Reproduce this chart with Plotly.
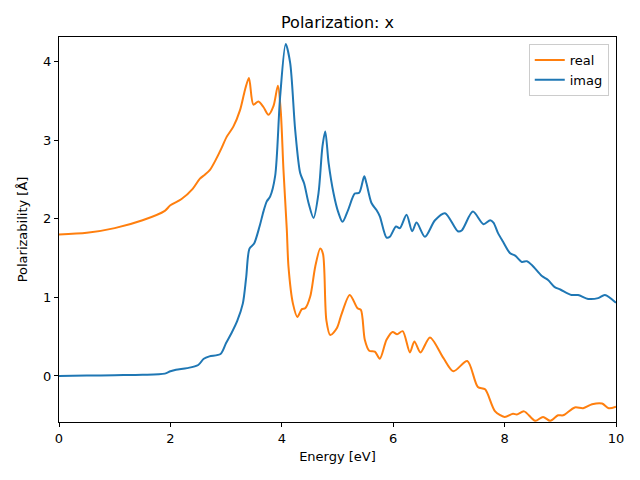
import plotly.graph_objects as go

# Real part (orange)
real_energy = [0.0, 0.5, 1.0, 1.5, 1.9, 2.0, 2.2, 2.4, 2.53, 2.62, 2.71, 2.83, 2.92, 3.01, 3.13, 3.25, 3.34, 3.41,
               3.49, 3.58, 3.67, 3.76, 3.85, 3.93, 3.98, 4.03, 4.09, 4.12, 4.2, 4.28, 4.36, 4.42, 4.51, 4.6, 4.69,
               4.74, 4.8, 4.87, 4.99, 5.07, 5.22, 5.36, 5.42, 5.49, 5.57, 5.67, 5.76, 5.88, 5.99, 6.07, 6.17,
               6.3, 6.38, 6.49, 6.66, 6.9, 7.08, 7.33, 7.52, 7.65, 7.83, 8.0, 8.15, 8.22, 8.35, 8.55, 8.69,
               8.82, 8.96, 9.05, 9.26, 9.41, 9.57, 9.75, 9.87, 10.0]
real_values = [1.80, 1.82, 1.88, 1.98, 2.10, 2.17, 2.25, 2.38, 2.51, 2.56, 2.62, 2.77, 2.90, 3.04, 3.17, 3.38, 3.64, 3.79,
               3.45, 3.49, 3.42, 3.32, 3.43, 3.69, 3.38, 2.62, 1.86, 1.39, 0.92, 0.75, 0.85, 0.86, 1.01, 1.39, 1.62,
               1.55, 0.71, 0.52, 0.61, 0.78, 1.03, 0.86, 0.84, 0.46, 0.32, 0.31, 0.22, 0.46, 0.56, 0.53, 0.57,
               0.30, 0.44, 0.30, 0.49, 0.23, 0.06, 0.19, -0.14, -0.17, -0.45, -0.52, -0.48, -0.49, -0.45, -0.57, -0.52,
               -0.57, -0.50, -0.50, -0.40, -0.41, -0.36, -0.35, -0.41, -0.39]

# Imaginary part (blue)
imag_energy = [0.0, 0.5, 1.0, 1.5, 1.9, 2.0, 2.1, 2.3, 2.5, 2.6, 2.7, 2.9, 3.0, 3.1, 3.2, 3.3, 3.36, 3.42, 3.5,
               3.6, 3.67, 3.73, 3.79, 3.88, 3.97, 4.07, 4.15, 4.24, 4.33, 4.4, 4.48, 4.57, 4.66, 4.73, 4.78,
               4.84, 4.93, 5.01, 5.09, 5.19, 5.31, 5.39, 5.48, 5.52, 5.61, 5.7, 5.76, 5.88, 5.94, 6.05, 6.12,
               6.24, 6.34, 6.42, 6.57, 6.75, 6.93, 7.16, 7.23, 7.43, 7.62, 7.74, 7.8, 7.88, 7.97, 8.1, 8.19,
               8.31, 8.4, 8.49, 8.67, 8.78, 8.9, 9.0, 9.2, 9.32, 9.5, 9.68, 9.8, 10.0]
imag_values = [0.0, 0.005, 0.01, 0.015, 0.03, 0.06, 0.08, 0.10, 0.14, 0.22, 0.25, 0.28, 0.42, 0.55, 0.70, 0.92, 1.25, 1.62, 1.68,
               1.90, 2.09, 2.22, 2.28, 2.54, 3.55, 4.22, 3.98, 3.13, 2.58, 2.45, 2.20, 2.01, 2.33, 2.92, 3.11,
               2.71, 2.32, 2.09, 1.96, 2.11, 2.32, 2.33, 2.54, 2.45, 2.20, 2.11, 2.03, 1.76, 1.77, 1.90, 1.88,
               2.05, 1.84, 1.95, 1.77, 1.98, 2.07, 1.84, 1.85, 2.09, 1.93, 1.98, 1.95, 1.82, 1.71, 1.56, 1.53,
               1.45, 1.46, 1.41, 1.27, 1.22, 1.13, 1.10, 1.03, 1.03, 0.98, 0.99, 1.03, 0.93]

x_ticks = [0, 2, 4, 6, 8, 10]
y_ticks = [0, 1, 2, 3, 4]

fig = go.Figure()
fig.add_trace(go.Scatter(x=real_energy, y=real_values, mode="lines", name="real",
                         line=dict(color="#ff7f0e", width=2, shape="spline", smoothing=0.8)))
fig.add_trace(go.Scatter(x=imag_energy, y=imag_values, mode="lines", name="imag",
                         line=dict(color="#1f77b4", width=2, shape="spline", smoothing=0.8)))

font = "DejaVu Sans"
axis_common = dict(showline=True, linecolor="black", linewidth=1, mirror=True, ticks="outside",
                   ticklen=4, tickwidth=1, tickcolor="black", showgrid=False, zeroline=False,
                   tickfont=dict(family=font, size=13, color="black"))

W, H = 632, 472
L, R, T, B = 51, 24, 29, 58

fig.update_layout(
    width=W, height=H,
    margin=dict(l=L, r=R, t=T, b=B),
    paper_bgcolor="white", plot_bgcolor="white",
    title=dict(text="Polarization: x", x=(L + (W - R)) / 2 / W, xanchor="center", y=1 - 14 / H, yanchor="middle",
               font=dict(family=font, size=16, color="black")),
    xaxis=dict(range=[0, 10], tickvals=x_ticks, title=dict(text="Energy [eV]", font=dict(family=font, size=13, color="black"), standoff=7), **axis_common),
    yaxis=dict(range=[-0.585, 4.31], tickvals=y_ticks, title=dict(text="Polarizability [Å]", font=dict(family=font, size=13, color="black"), standoff=12), **axis_common),
    legend=dict(x=0.987, y=0.982, xanchor="right", yanchor="top", bordercolor="#cccccc", borderwidth=1,
                bgcolor="rgba(255,255,255,0.8)", font=dict(family=font, size=13, color="black"),
                tracegroupgap=2),
    showlegend=True,
)

fig.write_html("out.html")
